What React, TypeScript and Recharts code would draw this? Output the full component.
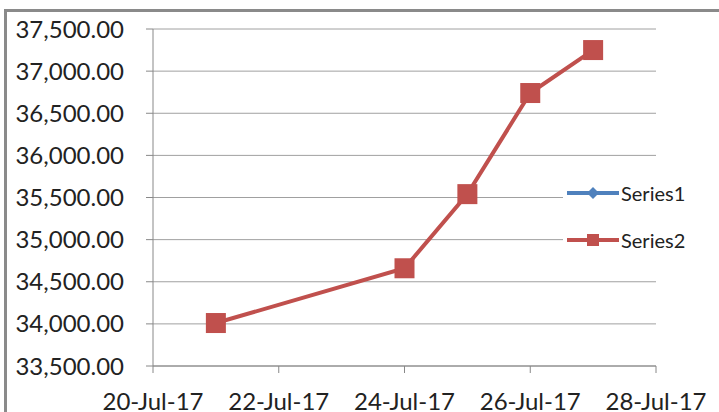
import { LineChart, Line, XAxis, YAxis, CartesianGrid } from 'recharts';

const dates = ['21-Jul-17', '24-Jul-17', '25-Jul-17', '26-Jul-17', '27-Jul-17'];
const series1: (number | null)[] = [null, null, null, null, null];
const series2 = [34010, 34660, 35540, 36740, 37250];
const xTickDates = ['20-Jul-17', '22-Jul-17', '24-Jul-17', '26-Jul-17', '28-Jul-17'];
const yTicks = [33500, 34000, 34500, 35000, 35500, 36000, 36500, 37000, 37500];

const MONTHS = ['Jan', 'Feb', 'Mar', 'Apr', 'May', 'Jun', 'Jul', 'Aug', 'Sep', 'Oct', 'Nov', 'Dec'];

// "21-Jul-17" -> day number since epoch
const toDay = (s: string) => {
  const [d, m, y] = s.split('-');
  return Date.UTC(2000 + Number(y), MONTHS.indexOf(m), Number(d)) / 86400000;
};

const fromDay = (n: number) => {
  const dt = new Date(n * 86400000);
  const yy = String(dt.getUTCFullYear() % 100).padStart(2, '0');
  return `${dt.getUTCDate()}-${MONTHS[dt.getUTCMonth()]}-${yy}`;
};

const data = dates.map((d, i) => ({ t: toDay(d), s1: series1[i], s2: series2[i] }));
const xTicks = xTickDates.map(toDay);

const RED = '#C0504D';
const BLUE = '#4F81BD';
const FONT = 'Lato, "Open Sans", sans-serif';

const SquareDot = (props: any) => {
  const { cx, cy } = props;
  if (cx == null || cy == null) return null;
  return <rect x={cx - 10} y={cy - 10} width={20} height={20} fill={RED} />;
};

// legend drawn as an overlay so it doesn't shrink the plot area
const LegendBox = () => (
  <div
    style={{
      position: 'absolute', left: 563, top: 170, width: 150,
      background: '#fff', fontFamily: FONT, fontSize: 20, color: '#222', padding: '8px 0',
    }}
  >
    <div style={{ display: 'flex', alignItems: 'center', height: 30, marginBottom: 17 }}>
      <svg width={58} height={20}>
        <line x1={4} y1={10} x2={56} y2={10} stroke={BLUE} strokeWidth={4} />
        <polygon points="30,4 36,10 30,16 24,10" fill={BLUE} />
      </svg>
      <span>Series1</span>
    </div>
    <div style={{ display: 'flex', alignItems: 'center', height: 30 }}>
      <svg width={58} height={20}>
        <line x1={4} y1={10} x2={56} y2={10} stroke={RED} strokeWidth={4} />
        <rect x={24} y={4} width={12} height={12} fill={RED} />
      </svg>
      <span>Series2</span>
    </div>
  </div>
);

export default function App() {
  return (
    <div style={{ position: 'absolute', left: 0, top: 0, width: 719, height: 412, background: '#fff', overflow: 'hidden' }}>
      <div
        style={{
          position: 'absolute', left: 4, top: 9, width: 760, height: 460,
          borderLeft: '3px solid #8a8a8a', borderTop: '3px solid #8a8a8a',
        }}
      />
      <LineChart
        width={719}
        height={412}
        data={data}
        margin={{ top: 29, right: 63, bottom: 6, left: 0 }}
        style={{ position: 'absolute', left: 0, top: 0 }}
      >
        <CartesianGrid vertical={false} stroke="#a0a0a0" />
        <XAxis
          dataKey="t"
          type="number"
          domain={[xTicks[0], xTicks[xTicks.length - 1]]}
          ticks={xTicks}
          tickFormatter={fromDay}
          height={40}
          stroke="#888"
          tickSize={7}
          tickMargin={20}
          tick={{ fill: '#222', fontSize: 24, fontFamily: FONT }}
          interval={0}
        />
        <YAxis
          domain={[33500, 37500]}
          ticks={yTicks}
          width={153}
          stroke="#888"
          tickSize={7}
          tickMargin={22}
          tickFormatter={(v: number) => v.toLocaleString('en-US', { minimumFractionDigits: 2, maximumFractionDigits: 2 })}
          tick={{ fill: '#222', fontSize: 24, fontFamily: FONT }}
          interval={0}
        />
        <Line dataKey="s1" name="Series1" stroke={BLUE} strokeWidth={4} dot={false} isAnimationActive={false} />
        <Line dataKey="s2" name="Series2" stroke={RED} strokeWidth={4} dot={<SquareDot />} activeDot={false} isAnimationActive={false} />
      </LineChart>
      <LegendBox />
    </div>
  );
}
